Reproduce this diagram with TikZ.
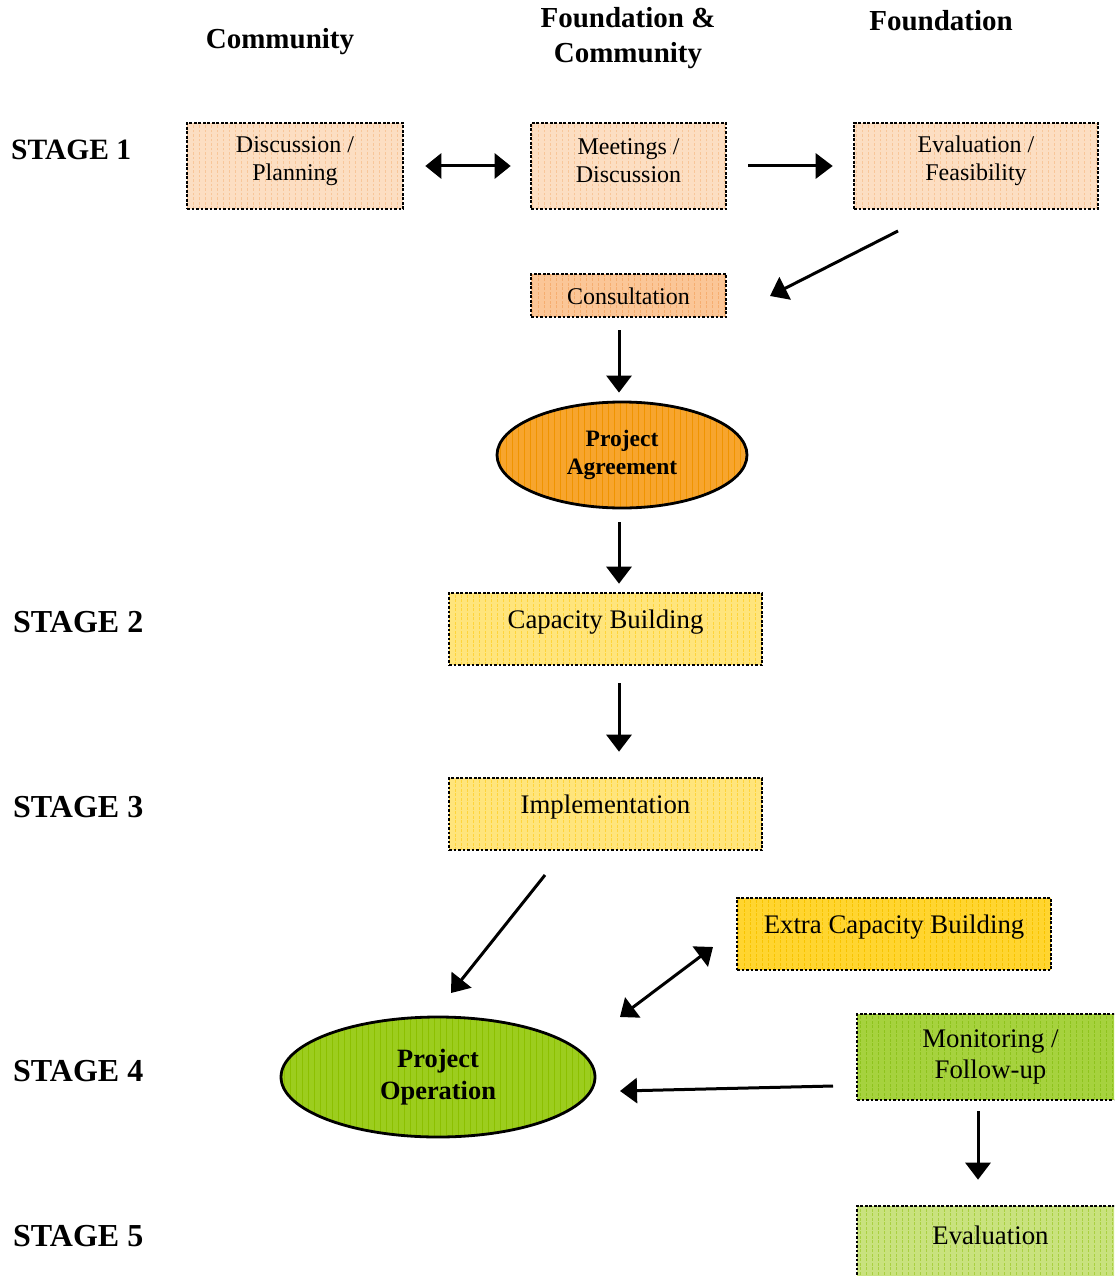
\documentclass[tikz,border=0pt]{standalone}
\usepackage{fontspec}
\setmainfont{Liberation Serif}
\usetikzlibrary{arrows.meta,shapes.geometric,calc}

\definecolor{peach}{HTML}{FCDEC2}
\definecolor{peachgrid}{HTML}{F8C699}
\definecolor{apricot}{HTML}{FBC697}
\definecolor{apricotgrid}{HTML}{F6AE70}
\definecolor{agreeor}{HTML}{F7A52E}
\definecolor{agreeorgrid}{HTML}{F09400}
\definecolor{paleyellow}{HTML}{FFE57C}
\definecolor{paleyellowgrid}{HTML}{FFD43A}
\definecolor{gold}{HTML}{FFD530}
\definecolor{goldgrid}{HTML}{F8C400}
\definecolor{opgreen}{HTML}{9CCD1E}
\definecolor{opgreengrid}{HTML}{8CC000}
\definecolor{leaf}{HTML}{A6D23E}
\definecolor{leafgrid}{HTML}{8EC31C}
\definecolor{paleleaf}{HTML}{C9E27E}
\definecolor{paleleafgrid}{HTML}{A9D040}

\tikzset{
  gridfill/.style={fill=#1, path picture={
      \draw[draw=#1grid, line width=0.7pt, step=6]
        (path picture bounding box.south west) grid (path picture bounding box.north east);}},
  dotbox/.style={draw=black, line width=2.6pt, dash pattern=on 2.6pt off 1.9pt,
      rectangle, inner sep=0pt, gridfill=#1},
  bubble/.style={draw=black, line width=2.8pt, ellipse, inner sep=0pt, gridfill=#1},
  head/.style={font=\fontsize{29}{35}\selectfont\bfseries, align=center},
  stage/.style={font=\fontsize{32}{34}\selectfont\bfseries, anchor=west, inner sep=0pt},
  small/.style={font=\fontsize{24}{28}\selectfont, align=center},
  big/.style={font=\fontsize{26.8}{31}\selectfont, align=center},
  flow/.style={line width=3pt, -{Triangle[length=17pt,width=25pt]}},
  flowboth/.style={line width=3pt, {Triangle[length=16pt,width=25pt]}-{Triangle[length=16pt,width=25pt]}},
}

\begin{document}
\begin{tikzpicture}[x=1pt,y=-1pt]
\clip (0,0) rectangle (1114,1276);
\fill[white] (0,0) rectangle (1114,1276);

% column headings
\node[head] (hcom) at (280,42) {Community};
\node[head] (hboth) at (628,38) {Foundation \&\\Community};
\node[head] (hfound) at (941,21) {Foundation};

% stage labels
\node[stage, font=\fontsize{29.5}{30}\selectfont\bfseries] (s1) at (11,150) {STAGE 1};
\node[stage] (s2) at (13,622) {STAGE 2};
\node[stage] (s3) at (13,807) {STAGE 3};
\node[stage] (s4) at (13,1071) {STAGE 4};
\node[stage] (s5) at (13,1236) {STAGE 5};

% stage 1 boxes
\node[dotbox=peach, minimum width=216, minimum height=86,
      label={[small, yshift=5pt]center:Discussion /\\Planning}] (plan) at (295,166) {};
\node[dotbox=peach, minimum width=195, minimum height=86,
      label={[small, yshift=5pt]center:Meetings /\\Discussion}] (meet) at (628.5,166) {};
\node[dotbox=peach, minimum width=244, minimum height=86,
      label={[small, yshift=5pt]center:Evaluation /\\Feasibility}] (feas) at (976,166) {};
\node[dotbox=apricot, minimum width=195, minimum height=43,
      label={[small, yshift=-1pt]center:Consultation}] (consult) at (628.5,295.5) {};

\node[bubble=agreeor, minimum width=250, minimum height=106,
      font=\fontsize{23.5}{28}\selectfont\bfseries, align=center] (agree) at (622,455) {Project\\Agreement};

% stages 2 and 3
\node[dotbox=paleyellow, minimum width=313, minimum height=72,
      label={[big, yshift=7pt]center:Capacity Building}] (capacity) at (605.5,629) {};
\node[dotbox=paleyellow, minimum width=313, minimum height=72,
      label={[big, yshift=7pt]center:Implementation}] (impl) at (605.5,814) {};

% stage 4
\node[dotbox=gold, minimum width=314, minimum height=72,
      label={[big, yshift=7pt]center:Extra Capacity Building}] (extra) at (894,934) {};
\node[bubble=opgreen, minimum width=314, minimum height=120,
      font=\fontsize{26.4}{32}\selectfont\bfseries, align=center] (operate) at (438,1077) {Project\\Operation};
\node[dotbox=leaf, minimum width=259, minimum height=86,
      label={[big, xshift=4pt, yshift=0pt]center:Monitoring /\\Follow-up}] (monitor) at (986.5,1057) {};

% stage 5
\node[dotbox=paleleaf, minimum width=259, minimum height=100,
      label={[big, xshift=4pt, yshift=21pt]center:Evaluation}] (evalfin) at (986.5,1256) {};

% free ends of the slanted connectors
\coordinate (feasout) at (898,231);
\coordinate (consultin) at (770,296);
\coordinate (implout) at (545,875);
\coordinate (operin) at (451,993);
\coordinate (extraout) at (713,947);
\coordinate (operside) at (620,1017);
\coordinate (monout) at (833,1086);
\coordinate (operright) at (620,1091);

% connectors
\draw[flowboth, shorten <=21pt, shorten >=19pt] (plan.east) -- (meet.west);
\draw[flow, shorten <=21pt, shorten >=20pt] (meet.east) -- (feas.west);
\draw[flow] (feasout) -- (consultin);
\draw[flow, shorten <=12pt, shorten >=8pt] ($(consult.south)+(-9.5,0)$) -- ($(agree.north)+(-3,0)$);
\draw[flow, shorten <=13pt, shorten >=8pt] ($(agree.south)+(-3,0)$) -- ($(capacity.north)+(13.5,0)$);
\draw[flow, shorten <=17pt, shorten >=25pt] ($(capacity.south)+(13.5,0)$) -- ($(impl.north)+(13.5,0)$);
\draw[flow] (implout) -- (operin);
\draw[flowboth] (extraout) -- (operside);
\draw[flow] (monout) -- (operright);
\draw[flow, shorten <=10pt, shorten >=25pt] ($(monitor.south)+(-8.5,0)$) -- ($(evalfin.north)+(-8.5,0)$);
\end{tikzpicture}
\end{document}
